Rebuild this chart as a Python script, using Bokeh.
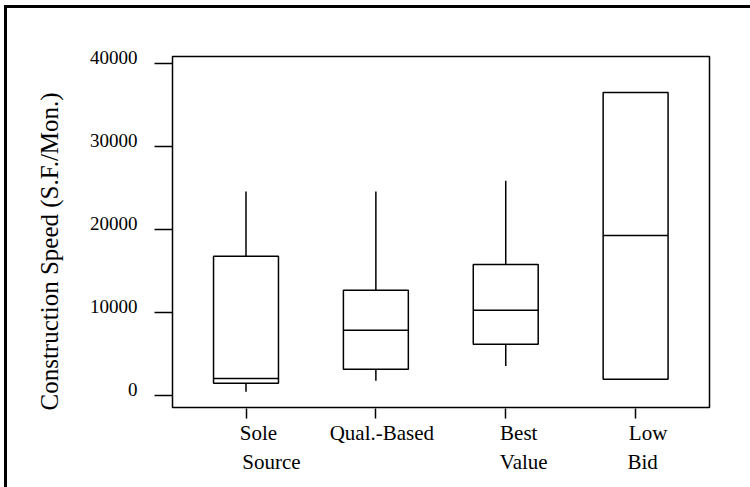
from bokeh.plotting import figure
from bokeh.models import (Range1d, FixedTicker, LinearAxis, Title,
                          CustomJSTickFormatter)
from bokeh.embed import file_html
from bokeh.resources import INLINE

# --- data -------------------------------------------------------------
categories = ["Sole Source", "Qual.-Based", "Best Value", "Low Bid"]
label_row1 = ["Sole", "Qual.-Based", "Best", "Low"]
label_row2 = ["Source", "", "Value", "Bid"]
whisker_low = [500, 1800, 3600, 2000]
q1 = [1500, 3200, 6200, 2000]
median = [2100, 7900, 10300, 19300]
q3 = [16800, 12700, 15800, 36500]
whisker_high = [24600, 24600, 25900, 36500]
y_ticks = [0, 10000, 20000, 30000, 40000]
y_title = "Construction Speed (S.F./Mon.)"

# --- layout -----------------------------------------------------------
FONT = "Liberation Serif"
X0, X1 = 0.434, 4.569
Y0, Y1 = -1405, 40841
LEFT, RIGHT, TOP, BOTTOM = 172, 41, 56, 80
W, H = 750, 487
FRAME_W = W - LEFT - RIGHT
FRAME_H = H - TOP - BOTTOM
X_PER_PX = (X1 - X0) / FRAME_W
Y_PER_PX = (Y1 - Y0) / FRAME_H

xs = [i + 1 for i in range(len(categories))]
half = 0.25
blank = CustomJSTickFormatter(code="return ''")

p = figure(
    width=W, height=H,
    x_range=Range1d(X0, X1), y_range=Range1d(Y0, Y1),
    min_border_left=LEFT, min_border_right=RIGHT,
    min_border_top=TOP, min_border_bottom=BOTTOM,
    output_backend="svg", toolbar_location=None,
    background_fill_color="white", border_fill_color=None,
)
# thick page frame along the top and left edges
p.styles = {"box-shadow": "inset 4px 5px 0 0 white, inset 7px 8px 0 0 black"}
p.grid.visible = False
p.outline_line_color = "black"
p.outline_line_width = 1.5

# whiskers
p.segment(x0=xs, y0=q3, x1=xs, y1=whisker_high, line_color="black", line_width=1.5)
p.segment(x0=xs, y0=whisker_low, x1=xs, y1=q1, line_color="black", line_width=1.5)
# boxes
p.vbar(x=xs, width=2 * half, bottom=q1, top=q3,
       fill_color="white", line_color="black", line_width=1.5)
# medians
p.segment(x0=[x - half for x in xs], y0=median, x1=[x + half for x in xs], y1=median,
          line_color="black", line_width=1.5)

# y axis: tick marks on the frame
yax = p.yaxis[0]
yax.ticker = FixedTicker(ticks=y_ticks)
yax.formatter = blank
yax.axis_line_color = None
yax.major_tick_in = 0
yax.major_tick_out = 18
yax.major_tick_line_color = "black"
yax.major_tick_line_width = 1.5
yax.minor_tick_line_color = None
yax.major_label_standoff = 0

# y tick numbers sit slightly above their ticks
lift = 6 * Y_PER_PX
p.extra_y_ranges = {"numbers": Range1d(Y0 - lift, Y1 - lift)}
ynum = LinearAxis(
    y_range_name="numbers", ticker=FixedTicker(ticks=y_ticks),
    axis_line_color=None, major_tick_line_color=None, minor_tick_line_color=None,
    major_tick_in=0, major_tick_out=0, major_label_standoff=17,
    major_label_text_font=FONT, major_label_text_font_size="19px",
    major_label_text_color="black",
)
p.add_layout(ynum, "left")

p.add_layout(Title(
    text=y_title, align="left", offset=-3, standoff=48,
    text_font=FONT, text_font_size="25px", text_font_style="normal",
    text_color="black",
), "left")

# x axis: tick marks only
xax = p.xaxis[0]
xax.ticker = FixedTicker(ticks=xs)
xax.formatter = blank
xax.axis_line_color = None
xax.major_tick_in = -1
xax.major_tick_out = 11
xax.major_tick_line_color = "black"
xax.major_tick_line_width = 1.5
xax.minor_tick_line_color = None
xax.major_label_standoff = 0

# category names, two rows, each word nudged right of its tick
row1_nudge = [12.5, 6, 13, 12.5]
row2_nudge = [25.5, 0, 18, 7]


def name_axis(words, nudges, standoff):
    pos = [x + n * X_PER_PX for x, w, n in zip(xs, words, nudges) if w]
    names = [w for w in words if w]
    return LinearAxis(
        ticker=FixedTicker(ticks=pos),
        formatter=CustomJSTickFormatter(args=dict(names=names), code="return names[index]"),
        axis_line_color=None, major_tick_line_color=None, minor_tick_line_color=None,
        major_tick_in=0, major_tick_out=0, major_label_standoff=standoff,
        major_label_text_font=FONT, major_label_text_font_size="21px",
        major_label_text_color="black",
    )


p.add_layout(name_axis(label_row1, row1_nudge, 2), "below")
p.add_layout(name_axis(label_row2, row2_nudge, 2), "below")

open("out.html", "w").write(file_html(p, INLINE))
